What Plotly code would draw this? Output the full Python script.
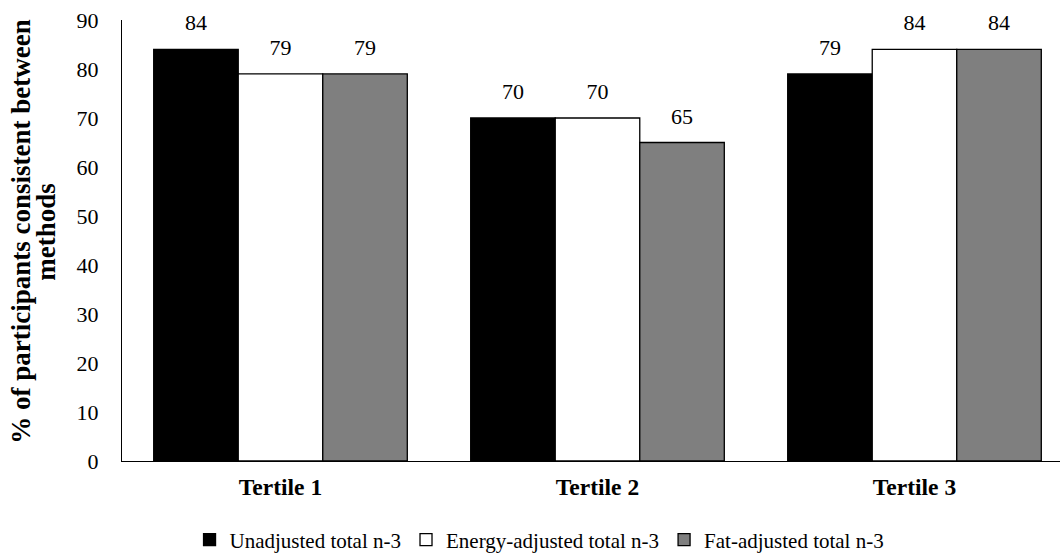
import plotly.graph_objects as go

categories = ["Tertile 1", "Tertile 2", "Tertile 3"]
series_names = ["Unadjusted total n-3", "Energy-adjusted total n-3", "Fat-adjusted total n-3"]
unadjusted = [84, 70, 79]
energy_adjusted = [79, 70, 84]
fat_adjusted = [79, 65, 84]
colors = ["#000000", "#ffffff", "#7f7f7f"]
y_title_lines = ["% of participants consistent between", "methods"]

SERIF = "Liberation Serif, Times New Roman, serif"

fig = go.Figure()
all_vals = [unadjusted, energy_adjusted, fat_adjusted]
for i, (name, vals, c) in enumerate(zip(series_names, all_vals, colors)):
    fig.add_trace(go.Bar(
        x=categories, y=vals, name=name, offsetgroup=str(i),
        marker=dict(color=c, line=dict(color="#000000", width=1.3)),
    ))
for i, vals in enumerate(all_vals):
    fig.add_trace(go.Scatter(
        x=categories, y=vals, mode="markers+text", offsetgroup=str(i),
        text=[str(v) for v in vals], textposition="top center",
        marker=dict(size=20, opacity=0),
        textfont=dict(family=SERIF, size=22, color="#000000"),
        showlegend=False, hoverinfo="skip", cliponaxis=False,
    ))

# y-axis title as two rotated lines (tighter line spacing than the built-in title)
for j, (line, xpos) in enumerate(zip(y_title_lines, [-0.1076, -0.081])):
    fig.add_annotation(
        text=line, textangle=-90, xref="paper", yref="paper",
        x=xpos, y=0.52, xanchor="center", yanchor="middle", showarrow=False,
        font=dict(family=SERIF, size=27, weight="bold", color="#000000"),
    )

fig.update_layout(
    width=1060, height=555,
    margin=dict(l=122, r=0, t=20, b=94, autoexpand=False),
    paper_bgcolor="white", plot_bgcolor="white",
    barmode="group", bargap=0.2, bargroupgap=0,
    scattermode="group", scattergap=0.2,
    font=dict(family=SERIF, color="#000000"),
    legend=dict(orientation="h", x=0.509, xref="container", xanchor="center",
                y=0.027, yref="container", yanchor="middle",
                font=dict(family=SERIF, size=21), traceorder="normal",
                itemwidth=30, tracegroupgap=0),
    xaxis=dict(range=[-0.5, 2.459], showline=True, linecolor="#000000", linewidth=1, ticks="",
               tickfont=dict(family=SERIF, size=23.5, weight="bold"),
               ticklabelstandoff=5, showgrid=False),
    yaxis=dict(range=[0, 90], dtick=10, showline=True, linecolor="#000000", linewidth=1,
               ticks="", showgrid=False, zeroline=False, ticklabelstandoff=18,
               tickfont=dict(family=SERIF, size=22)),
)

fig.write_html("out.html")
